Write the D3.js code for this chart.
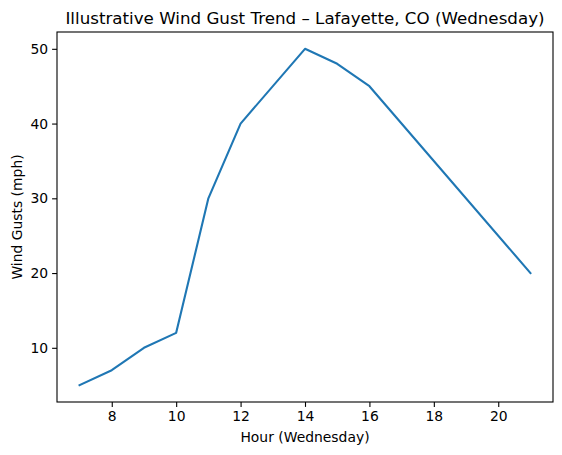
<!DOCTYPE html>
<html lang="en">
<head>
    <meta charset="utf-8">
    <script src="https://d3js.org/d3.v7.min.js"></script>
    <style>
        body { margin: 0; background: #fff; }
        text { font-family: "DejaVu Sans", sans-serif; fill: #000; }
    </style>
</head>
<body>
    <script>
        // data
        const hours = [7, 8, 9, 10, 11, 12, 14, 15, 16, 21];
        const gusts = [5, 7, 10, 12, 30, 40, 50, 48, 45, 20];
        const xTicks = [8, 10, 12, 14, 16, 18, 20];
        const yTicks = [10, 20, 30, 40, 50];

        const width = 562, height = 455;
        const mLeft = 57, mRight = 553, mTop = 32, mBottom = 402;

        const svg = d3.select("body").append("svg")
            .attr("width", width)
            .attr("height", height);

        const data = hours.map((h, i) => ({ x: h, y: gusts[i] }));

        // matplotlib style 5% margins
        const xr = d3.extent(hours), yr = d3.extent(gusts);
        const xPad = (xr[1] - xr[0]) * 0.05, yPad = (yr[1] - yr[0]) * 0.05;

        const x = d3.scaleLinear()
            .domain([xr[0] - xPad, xr[1] + xPad])
            .range([mLeft, mRight]);
        const y = d3.scaleLinear()
            .domain([yr[0] - yPad, yr[1] + yPad])
            .range([mBottom, mTop]);

        // x axis
        const gx = svg.append("g")
            .attr("transform", `translate(0,${mBottom})`)
            .call(d3.axisBottom(x).tickValues(xTicks).tickSize(4.9).tickPadding(4).tickFormat(d3.format("d")));
        // y axis
        const gy = svg.append("g")
            .attr("transform", `translate(${mLeft},0)`)
            .call(d3.axisLeft(y).tickValues(yTicks).tickSize(4.9).tickPadding(4).tickFormat(d3.format("d")));

        [gx, gy].forEach(g => {
            g.select(".domain").remove();
            g.selectAll(".tick line").attr("stroke", "#000").attr("stroke-width", 1.1);
            g.selectAll(".tick text")
                .attr("font-family", "DejaVu Sans")
                .attr("font-size", 13.9)
                .attr("fill", "#000");
        });

        // line
        svg.append("path")
            .datum(data)
            .attr("fill", "none")
            .attr("stroke", "#1f77b4")
            .attr("stroke-width", 2.1)
            .attr("stroke-linejoin", "round")
            .attr("stroke-linecap", "square")
            .attr("d", d3.line().x(d => x(d.x)).y(d => y(d.y)));

        // frame
        svg.append("rect")
            .attr("x", mLeft)
            .attr("y", mTop)
            .attr("width", mRight - mLeft)
            .attr("height", mBottom - mTop)
            .attr("fill", "none")
            .attr("stroke", "#000")
            .attr("stroke-width", 1.1);

        // title and labels
        svg.append("text")
            .attr("x", (mLeft + mRight) / 2)
            .attr("y", 24)
            .attr("text-anchor", "middle")
            .attr("font-size", 16.7)
            .text("Illustrative Wind Gust Trend – Lafayette, CO (Wednesday)");

        svg.append("text")
            .attr("x", (mLeft + mRight) / 2)
            .attr("y", 442)
            .attr("text-anchor", "middle")
            .attr("font-size", 13.9)
            .text("Hour (Wednesday)");

        svg.append("text")
            .attr("transform", `translate(22,${(mTop + mBottom) / 2}) rotate(-90)`)
            .attr("text-anchor", "middle")
            .attr("font-size", 13.9)
            .text("Wind Gusts (mph)");
    </script>
</body>
</html>
